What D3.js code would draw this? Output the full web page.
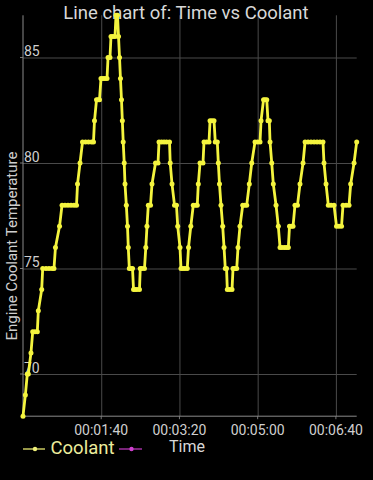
<!DOCTYPE html>
<html><head><meta charset="utf-8">
<script src="https://cdn.jsdelivr.net/npm/d3@7"></script>
<style>html,body{margin:0;padding:0;background:#000;}svg{display:block;}</style>
</head><body>
<script>
// Time in seconds
const times = [0,3,5.5,6.8,10.2,12.4,15.3,18.3,19.6,23.9,25.2,29.4,33.2,37.1,39.6,41.5,46.7,
49.9,53.7,57.5,61.4,65.2,68.4,69.7,72.9,76.1,79.9,83.7,87.6,90.1,91.4,94.0,95.9,97.8,
99.7,102.3,104.8,107.4,108.7,111.2,112.5,115.0,117.6,118.9,120.8,122.1,123.4,124.6,125.9,127.0,
128.1,129.4,130.4,132.1,133.6,134.6,135.9,138.1,140.0,141.3,143.2,145.7,148.9,149.9,152.1,155.3,
157.0,158.5,160.2,163.0,164.9,169.4,172.6,173.9,177.1,180.3,183.5,187.3,188.2,190.5,193.7,196.2,
197.8,200.7,202.0,204.5,207.1,210.0,211.6,214.5,217.7,220.5,222.8,224.1,226.3,230.1,231.4,234.6,
237.8,239.1,241.6,244.2,245.8,248.4,249.7,251.2,253.1,255.3,257.0,258.6,260.2,261.2,264.0,267.2,
268.5,271.0,273.2,274.9,277.4,280.9,283.4,286.0,289.3,292.4,296.6,299.8,303.0,304.3,307.5,309.4,
311.6,313.2,314.9,315.8,318.0,320.0,323.5,326.4,328.6,331.1,334.1,336.6,339.2,340.7,343.3,345.2,
347.7,350.9,354.1,358.0,360.6,364.4,368.2,372.1,375.9,379.7,383.5,384.8,387.4,390.3,393.8,397.6,
400.8,404.0,407.2,409.1,413.0,416.8,418.9,423.2,426.6];
// Coolant temperature
const coolant = [68,69,70,70,71,72,72,72,73,74,75,75,75,75,75,76,77,
78,78,78,78,78,78,79,80,81,81,81,81,81,82,83,83,83,
84,84,84,84,85,85,86,86,86,87,87,86,85,84,83,82,
81,80,79,78,77,76,75,75,75,74,74,74,74,75,75,75,
76,77,78,78,79,80,80,81,81,81,81,81,80,79,78,78,
77,76,75,75,75,75,76,77,78,78,78,79,80,80,81,81,
81,82,82,82,81,81,80,79,78,77,76,75,75,74,74,74,
75,75,75,76,77,78,78,78,79,80,81,81,81,82,83,83,
83,82,82,81,80,79,78,77,76,76,76,76,76,77,77,77,
78,78,79,80,81,81,81,81,81,81,81,80,79,78,78,78,
77,77,77,78,78,78,79,80,81];
const yTicks = [70,75,80,85];
const xTicks = [100,200,300,400];
const title = "Line chart of: Time vs Coolant";
const yTitle = "Engine Coolant Temperature";
const legendItems = ["Coolant","Time"];

const W = 373, H = 480;
const data = times.map((t,i)=>({t, v: coolant[i]}));
const svg = d3.select("body").append("svg").attr("width",W).attr("height",H)
  .style("background","#000").style("font-family","Roboto, sans-serif");

const x = d3.scaleLinear().domain(d3.extent(times)).range([23, 356.7]);
const y = d3.scaleLinear().domain([68,87]).range([416.2, 15.3]);

const fmt = s => {
  const h = Math.floor(s/3600), m = Math.floor((s%3600)/60), sec = Math.round(s%60);
  const p = n => String(n).padStart(2,"0");
  return p(h)+":"+p(m)+":"+p(sec);
};

// grid
const gx = svg.append("g").attr("transform",`translate(0,${y(68)})`)
  .call(d3.axisBottom(x).tickValues(xTicks).tickSize(-(y(68)-y(87))).tickSizeOuter(0).tickFormat(""));
gx.select(".domain").remove();
gx.selectAll(".tick line").attr("stroke","#4a4a4a").attr("stroke-width",1);
const gy = svg.append("g").attr("transform",`translate(${x(0)},0)`)
  .call(d3.axisLeft(y).tickValues(yTicks).tickSize(-(356.7-x(0))).tickSizeOuter(0).tickFormat(""));
gy.select(".domain").remove();
gy.selectAll(".tick line").attr("stroke","#4a4a4a").attr("stroke-width",1);

// small ticks outside
svg.append("g").selectAll("line").data(xTicks).join("line")
  .attr("x1",d=>x(d)).attr("x2",d=>x(d)).attr("y1",y(68)).attr("y2",y(68)+3)
  .attr("stroke","#777");
svg.append("g").selectAll("line").data(yTicks).join("line")
  .attr("x1",x(0)-3).attr("x2",x(0)).attr("y1",d=>y(d)).attr("y2",d=>y(d))
  .attr("stroke","#777");

// axis lines
svg.append("line").attr("x1",x(0)).attr("x2",x(0)).attr("y1",y(87)).attr("y2",y(68))
  .attr("stroke","#8a8a8a").attr("stroke-width",1);
svg.append("line").attr("x1",x(0)).attr("x2",356.7).attr("y1",y(68)).attr("y2",y(68))
  .attr("stroke","#8a8a8a").attr("stroke-width",1);

// tick labels
svg.append("g").selectAll("text").data(yTicks).join("text")
  .attr("x",x(0)+1).attr("y",d=>y(d)-1.5).attr("fill","#cfcfcf").attr("font-size",14)
  .text(d=>d);
svg.append("g").selectAll("text").data(xTicks).join("text")
  .attr("x",d=>x(d)).attr("y",434.5).attr("text-anchor","middle").attr("fill","#cfcfcf")
  .attr("font-size",14).text(d=>fmt(d));

// title
svg.append("text").attr("x",186).attr("y",18.5).attr("text-anchor","middle")
  .attr("fill","#d8d8d8").attr("font-size",18.5).text(title);
svg.append("text").attr("transform","translate(16.5,246) rotate(-90)").attr("text-anchor","middle")
  .attr("fill","#cfcfcf").attr("font-size",15).text(yTitle);

// line
const line = d3.line().x(d=>x(d.t)).y(d=>y(d.v));
svg.append("path").datum(data).attr("d",line).attr("fill","none")
  .attr("stroke","#f4f43e").attr("stroke-width",2.8).attr("stroke-linejoin","round");
svg.append("g").selectAll("circle").data(data).join("circle")
  .attr("cx",d=>x(d.t)).attr("cy",d=>y(d.v)).attr("r",2.5).attr("fill","#f4f43e");

// legend
const lg = svg.append("g");
lg.append("line").attr("x1",23).attr("x2",45).attr("y1",449).attr("y2",449).attr("stroke","#c8c860").attr("stroke-width",1.5);
lg.append("circle").attr("cx",35).attr("cy",449).attr("r",2.2).attr("fill","#f0f07a");
lg.append("text").attr("x",50.5).attr("y",454).attr("fill","#ecec9c").attr("font-size",18.5).text(legendItems[0]);
lg.append("line").attr("x1",119).attr("x2",142).attr("y1",449).attr("y2",449).attr("stroke","#a030a0").attr("stroke-width",1.5);
lg.append("circle").attr("cx",131.5).attr("cy",449).attr("r",2.2).attr("fill","#d040d0");
lg.append("text").attr("x",169).attr("y",452).attr("fill","#d8d8d8").attr("font-size",16).text(legendItems[1]);
</script>
</body></html>
